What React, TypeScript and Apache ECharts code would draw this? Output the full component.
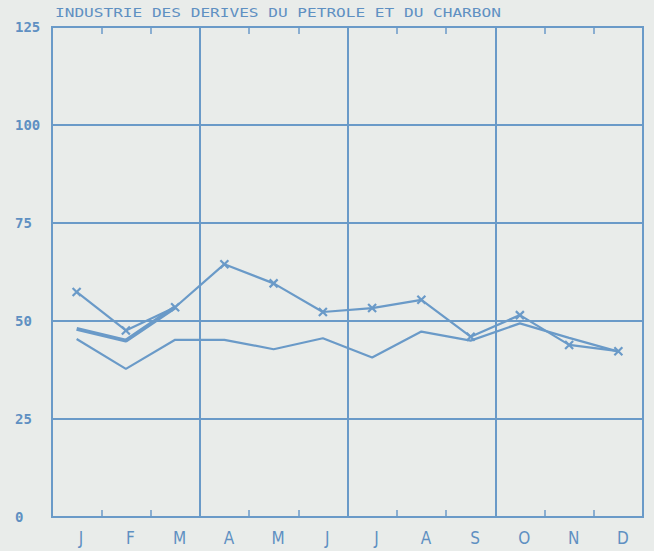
import React, { useEffect, useRef } from "react";
import * as echarts from "echarts";

const title = "INDUSTRIE DES DERIVES DU PETROLE ET DU CHARBON";
const months = ["J", "F", "M", "A", "M", "J", "J", "A", "S", "O", "N", "D"];
const seriesMarked = [57.4, 47.6, 53.5, 64.5, 59.6, 52.3, 53.3, 55.4, 46.0, 51.5, 43.9, 42.3];
const seriesThick = [48.0, 45.0, 53.5, null, null, null, null, null, null, null, null, null];
const seriesThin = [45.4, 37.8, 45.2, 45.2, 42.8, 45.6, 40.7, 47.3, 45.0, 49.4, 45.7, 42.2];
const yTicks = [0, 25, 50, 75, 100, 125];

const BLUE = "#6a9ac8";
const TEXT = "#5f90c2";
const BG = "#e9ecea";

export default function App() {
  const ref = useRef<HTMLDivElement>(null);
  useEffect(() => {
    if (!ref.current) return;
    const chart = echarts.init(ref.current, null, { renderer: "svg" });
    const xBase = {
      type: "category" as const,
      data: months,
      boundaryGap: true,
      axisLine: { show: false },
      axisTick: { show: true, inside: true, length: 7, interval: 0, lineStyle: { color: BLUE, width: 1.5 } },
    };
    chart.setOption({
      animation: false,
      backgroundColor: BG,
      graphic: [
        {
          type: "text",
          left: 55,
          top: 6,
          scaleX: 1.24,
          style: {
            text: title,
            fill: TEXT,
            font: "13px 'DejaVu Sans Mono'",
          },
        },
      ],
      grid: {
        left: 52,
        right: 11,
        top: 27,
        bottom: 34,
        show: true,
        borderColor: BLUE,
        borderWidth: 2,
        backgroundColor: "transparent",
      },
      xAxis: [
        {
          ...xBase,
          position: "bottom",
          axisLabel: {
            color: TEXT,
            fontFamily: "DejaVu Sans Condensed",
            fontSize: 17,
            margin: 12,
            padding: [0, 0, 0, 9],
            interval: 0,
          },
          splitLine: {
            show: true,
            interval: (i: number) => i % 3 === 0,
            lineStyle: { color: BLUE, width: 2 },
          },
        },
        {
          ...xBase,
          position: "top",
          axisLabel: { show: false },
          splitLine: { show: false },
        },
      ],
      yAxis: {
        type: "value",
        min: 0,
        max: 125,
        interval: 25,
        axisLine: { show: false },
        axisTick: { show: false },
        axisLabel: {
          color: TEXT,
          fontFamily: "DejaVu Sans Mono",
          fontWeight: "bold",
          fontSize: 14,
          align: "left",
          margin: 37,
          formatter: (v: number) => (yTicks.includes(v) ? String(v) : ""),
        },
        splitLine: { show: true, lineStyle: { color: BLUE, width: 2 } },
      },
      series: [
        {
          type: "line",
          data: seriesThin,
          symbol: "none",
          lineStyle: { color: BLUE, width: 2.2 },
          z: 3,
        },
        {
          type: "line",
          data: seriesThick,
          symbol: "none",
          lineStyle: { color: BLUE, width: 4 },
          z: 3,
        },
        {
          type: "line",
          data: seriesMarked,
          symbol: "path://M0,0L10,10M10,0L0,10",
          symbolSize: 8,
          itemStyle: { color: BLUE, borderColor: BLUE, borderWidth: 2.2 },
          lineStyle: { color: BLUE, width: 2.2 },
          z: 4,
        },
      ],
    });
    return () => chart.dispose();
  }, []);
  return (
    <div
      ref={ref}
      style={{ position: "fixed", left: 0, top: 0, width: 654, height: 551, background: BG }}
    />
  );
}
